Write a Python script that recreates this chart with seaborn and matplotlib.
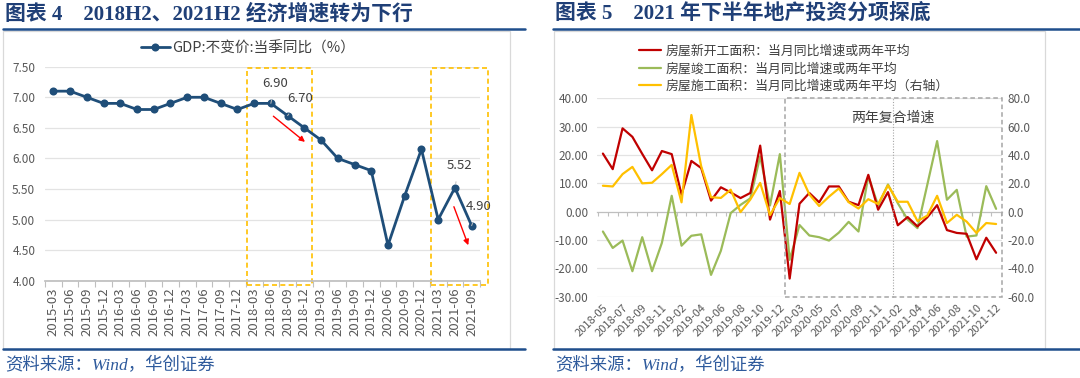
import matplotlib
matplotlib.use("Agg")
import matplotlib.pyplot as plt
import seaborn as sns
import numpy as np
import pandas as pd
from matplotlib.lines import Line2D
from matplotlib.patches import Rectangle

# ---- data: left chart (GDP) ----
gdp_dates = ['2015-03', '2015-06', '2015-09', '2015-12', '2016-03', '2016-06',
             '2016-09', '2016-12', '2017-03', '2017-06', '2017-09', '2017-12',
             '2018-03', '2018-06', '2018-09', '2018-12', '2019-03', '2019-06',
             '2019-09', '2019-12', '2020-06', '2020-09', '2020-12', '2021-03',
             '2021-06', '2021-09']
gdp_yoy = [7.1, 7.1, 7.0, 6.9, 6.9, 6.8, 6.8, 6.9, 7.0, 7.0, 6.9, 6.8,
           6.9, 6.9, 6.7, 6.5, 6.3, 6.0, 5.9, 5.8, 4.58, 5.39, 6.15, 5.0,
           5.52, 4.9]
gdp_labelled = {'2018-06': '6.90', '2018-09': '6.70', '2021-06': '5.52', '2021-09': '4.90'}
gdp_yticks = [4.0, 4.5, 5.0, 5.5, 6.0, 6.5, 7.0, 7.5]

# ---- data: right chart (property) ----
prop_months = ['2018-05', '2018-06', '2018-07', '2018-08', '2018-09', '2018-10',
               '2018-11', '2018-12', '2019-02', '2019-03', '2019-04', '2019-05',
               '2019-06', '2019-07', '2019-08', '2019-09', '2019-10', '2019-11',
               '2019-12', '2020-02', '2020-03', '2020-04', '2020-05', '2020-06',
               '2020-07', '2020-08', '2020-09', '2020-10', '2020-11', '2020-12',
               '2021-02', '2021-03', '2021-04', '2021-05', '2021-06', '2021-07',
               '2021-08', '2021-09', '2021-10', '2021-11', '2021-12']
new_start = [20.5, 15.0, 29.4, 26.4, 20.4, 14.6, 21.4, 20.3, 6.0, 17.9, 15.4,
             3.9, 8.6, 6.8, 4.8, 6.6, 23.3, -2.8, 7.3, -23.6, 2.8, 6.6, 3.3,
             8.9, 8.9, 3.5, 2.3, 13.0, 0.7, 6.9, -4.8, -1.9, -5.2, -2.0, 2.3,
             -6.5, -7.5, -7.8, -16.8, -9.2, -14.5]
completed = [-7.0, -12.8, -10.2, -21.0, -9.0, -21.0, -11.0, 5.6, -12.0, -8.5,
             -8.0, -22.3, -13.8, -0.5, 2.4, 4.7, 19.5, 2.2, 20.3, -17.0, -4.7,
             -8.4, -9.0, -10.2, -7.4, -3.6, -7.0, 12.5, 2.2, 9.6, 3.0, -2.8,
             -5.8, 9.5, 24.9, 4.2, 7.7, -8.8, -8.4, 9.0, 1.0]
under_constr = [18.3, 17.8, 26.5, 31.6, 20.0, 20.4, 26.5, 33.0, 6.6, 68.2, 32.0,
                10.2, 9.7, 15.5, -0.3, 8.6, 20.3, -2.4, 9.6, 5.4, 27.4, 12.2,
                4.0, 10.6, 16.4, 6.7, 2.2, 8.8, 5.4, 18.6, 7.0, 7.0, -6.6, -2.8,
                11.2, -8.0, -2.2, -7.0, -15.0, -8.0, -8.7]
series_names = ['房屋新开工面积：当月同比增速或两年平均',
                '房屋竣工面积：当月同比增速或两年平均',
                '房屋施工面积：当月同比增速或两年平均（右轴）']
left_yticks = [-30, -20, -10, 0, 10, 20, 30, 40]
right_yticks = [-60, -40, -20, 0, 20, 40, 60, 80]

NAVY = '#1F3F77'
RULE = '#1F4E8C'
GRID = '#E3E3E3'
TXT = '#595959'

sns.set_theme(style='white')
plt.rcParams['font.family'] = ['Noto Sans CJK SC', 'DejaVu Sans']
plt.rcParams['axes.unicode_minus'] = False

W, H = 1080, 378
fig = plt.figure(figsize=(W / 100, H / 100), dpi=100)


def fx(px):
    return px / W


def fy(py):
    return 1 - py / H


def add_axes_px(x0, y0, x1, y1):
    return fig.add_axes([fx(x0), fy(y1), (x1 - x0) / W, (y1 - y0) / H])


# ---- frame decorations (rules, borders, titles, source) ----
for x0, x1 in [(3, 525), (553, 1080)]:
    fig.add_artist(Line2D([fx(x0), fx(x1)], [fy(29), fy(29)], color=RULE, lw=1.8))
    fig.add_artist(Line2D([fx(x0), fx(x1)], [fy(349), fy(349)], color=RULE, lw=1.8))
for x0, x1 in [(3, 510), (554, 1045)]:
    fig.add_artist(Rectangle((fx(x0), fy(349)), (x1 - x0) / W, (349 - 31) / H,
                             transform=fig.transFigure, fill=False,
                             edgecolor='#D9D9D9', lw=0.9))

title_font = ['Liberation Serif', 'Noto Sans CJK SC']
fig.text(fx(5), fy(14), '图表 4    2018H2、2021H2 经济增速转为下行', color=NAVY,
         fontsize=15, fontweight='bold', family=title_font, va='center')
fig.text(fx(555), fy(14), '图表 5    2021 年下半年地产投资分项探底', color=NAVY,
         fontsize=15, fontweight='bold', family=title_font, va='center')
for x0 in (5, 555):
    fig.text(fx(x0), fy(366), '资料来源：Wind，华创证券', color='#2E5A9C',
             fontsize=12.5, style='italic', family=title_font, va='center')

# ---- left chart ----
ax = add_axes_px(45, 66.7, 480, 280.7)
gdp_df = pd.DataFrame({'pos': np.arange(len(gdp_dates)), 'gdp': gdp_yoy})
sns.lineplot(data=gdp_df, x='pos', y='gdp', ax=ax, color='#1F4E79', lw=2.0,
             marker='o', markersize=5.8, markeredgewidth=0, legend=False)
ax.set_xlim(-0.5, len(gdp_dates) - 0.5)
ax.set_ylim(4.0, 7.5)
ax.set_yticks(gdp_yticks)
ax.set_yticklabels([f'{v:.2f}' for v in gdp_yticks])
ax.set_xticks(np.arange(len(gdp_dates)))
ax.set_xticklabels(gdp_dates, rotation=90)
ax.set_xticks(np.arange(len(gdp_dates) + 1) - 0.5, minor=True)
ax.tick_params(axis='x', which='major', length=0, pad=5, labelsize=9.5, labelcolor=TXT)
ax.tick_params(axis='x', which='minor', length=4, width=0.8, color='#BFBFBF', direction='out')
ax.tick_params(axis='y', length=0, pad=7, labelsize=8.5, labelcolor=TXT)
ax.set_xlabel('')
ax.set_ylabel('')
ax.grid(axis='y', color=GRID, lw=0.9)
for s in ['top', 'right', 'left']:
    ax.spines[s].set_visible(False)
ax.spines['bottom'].set_color('#BFBFBF')
ax.xaxis.set_ticks_position('bottom')

# highlighted windows
for (a, b) in [(11.6, 15.48), (22.6, 26.0)]:
    ax.add_patch(Rectangle((a, 3.93), b - a, 7.48 - 3.93, fill=False,
                           edgecolor='#FFC000', lw=1.2, ls=(0, (3, 2)),
                           clip_on=False, zorder=1))

# value labels with leader lines
label_offsets = {'2018-06': (0.25, 0.33), '2018-09': (0.74, 0.28),
                 '2021-06': (0.25, 0.37), '2021-09': (0.4, 0.31)}
for d, txt in gdp_labelled.items():
    i = gdp_dates.index(d)
    dx, dy = label_offsets[d]
    ax.annotate(txt, xy=(i, gdp_yoy[i]), xytext=(i + dx, gdp_yoy[i] + dy),
                ha='center', va='center', fontsize=9.5, color='#404040',
                arrowprops=dict(arrowstyle='-', color='#BFBFBF', lw=0.7,
                                shrinkA=5, shrinkB=3),
                annotation_clip=False)

# red trend arrows
for (x0, y0), (x1, y1) in [((13.15, 6.69), (15.04, 6.27)), ((23.94, 5.21), (24.8, 4.58))]:
    ax.annotate('', xy=(x1, y1), xytext=(x0, y0),
                arrowprops=dict(arrowstyle='-|>', color='#FF0000', lw=1.0,
                                mutation_scale=8, shrinkA=0, shrinkB=0))

gdp_handle = Line2D([], [], color='#1F4E79', lw=2.0, marker='o', markersize=5.8,
                    markeredgewidth=0)
fig.legend([gdp_handle], ['GDP:不变价:当季同比（%）'], loc='center',
           bbox_to_anchor=(fx(248), fy(48)), frameon=False, fontsize=10.5,
           handlelength=2.0, handletextpad=0.2, labelcolor='#404040')

# ---- right chart ----
axr = add_axes_px(597, 98.3, 1002, 296.7)
pos = np.arange(len(prop_months))
prop_df = pd.DataFrame({'pos': pos, 'new': new_start, 'done': completed,
                        'build': under_constr})
sns.lineplot(data=prop_df, x='pos', y='new', ax=axr, color='#C00000', lw=1.6,
             label=series_names[0], legend=False, zorder=4)
sns.lineplot(data=prop_df, x='pos', y='done', ax=axr, color='#9BBB59', lw=1.6,
             label=series_names[1], legend=False, zorder=3)
axr2 = axr.twinx()
sns.lineplot(data=prop_df, x='pos', y='build', ax=axr2, color='#FFC000', lw=1.6,
             label=series_names[2], legend=False)

xl = (-0.6, len(prop_months) - 0.4)
for a in (axr, axr2):
    a.set_xlim(*xl)
    a.set_xlabel('')
    a.set_ylabel('')
    for s in a.spines.values():
        s.set_visible(False)
axr.set_ylim(-30, 40)
axr2.set_ylim(-60, 80)
axr.set_yticks(left_yticks)
axr.set_yticklabels([f'{v:.2f}' for v in left_yticks])
axr2.set_yticks(right_yticks)
axr2.set_yticklabels([f'{v:.1f}' for v in right_yticks])
axr.tick_params(axis='y', length=0, pad=6, labelsize=8.5, labelcolor=TXT)
axr2.tick_params(axis='y', length=0, pad=4, labelsize=8.5, labelcolor=TXT)
axr.set_xticks(pos[::2])
axr.set_xticklabels(prop_months[::2], rotation=45, ha='right',
                    rotation_mode='anchor')
axr.tick_params(axis='x', length=0, pad=4, labelsize=8, labelcolor=TXT)
for v in left_yticks:
    if v != 0:
        axr.axhline(v, color=GRID, lw=0.9, zorder=0)

# zero line with category tick marks
zero_ax = axr.secondary_xaxis(30 / 70)
zero_ax.set_xticks(np.arange(len(prop_months) + 1) - 0.5)
zero_ax.tick_params(axis='x', length=3, width=0.8, color='#BFBFBF',
                    direction='out', labelbottom=False, labeltop=False)
zero_ax.spines['bottom'].set_color('#BFBFBF')
zero_ax.spines['bottom'].set_linewidth(0.9)

# two-year compound growth window
axr.add_patch(Rectangle((18.5, -30), xl[1] - 18.5, 70, fill=False,
                        edgecolor='#A6A6A6', lw=1.1, ls=(0, (3, 2)),
                        clip_on=False, zorder=5))
axr.plot([29.5, 29.5], [-30, 40], color='#A6A6A6', lw=0.8, ls=(0, (1, 1.5)),
         zorder=5, clip_on=False)
axr.text(29.45, 33, '两年复合增速', ha='center', va='center', fontsize=10,
         color='#404040', zorder=6)

h1, l1 = axr.get_legend_handles_labels()
h2, l2 = axr2.get_legend_handles_labels()
fig.legend(h1 + h2, l1 + l2, loc='upper left',
           bbox_to_anchor=(fx(627), fy(33)), frameon=False, fontsize=9.3,
           handlelength=1.7, handletextpad=0.4, labelspacing=0.35,
           labelcolor='#404040')

fig.savefig('out.png', dpi=100)
